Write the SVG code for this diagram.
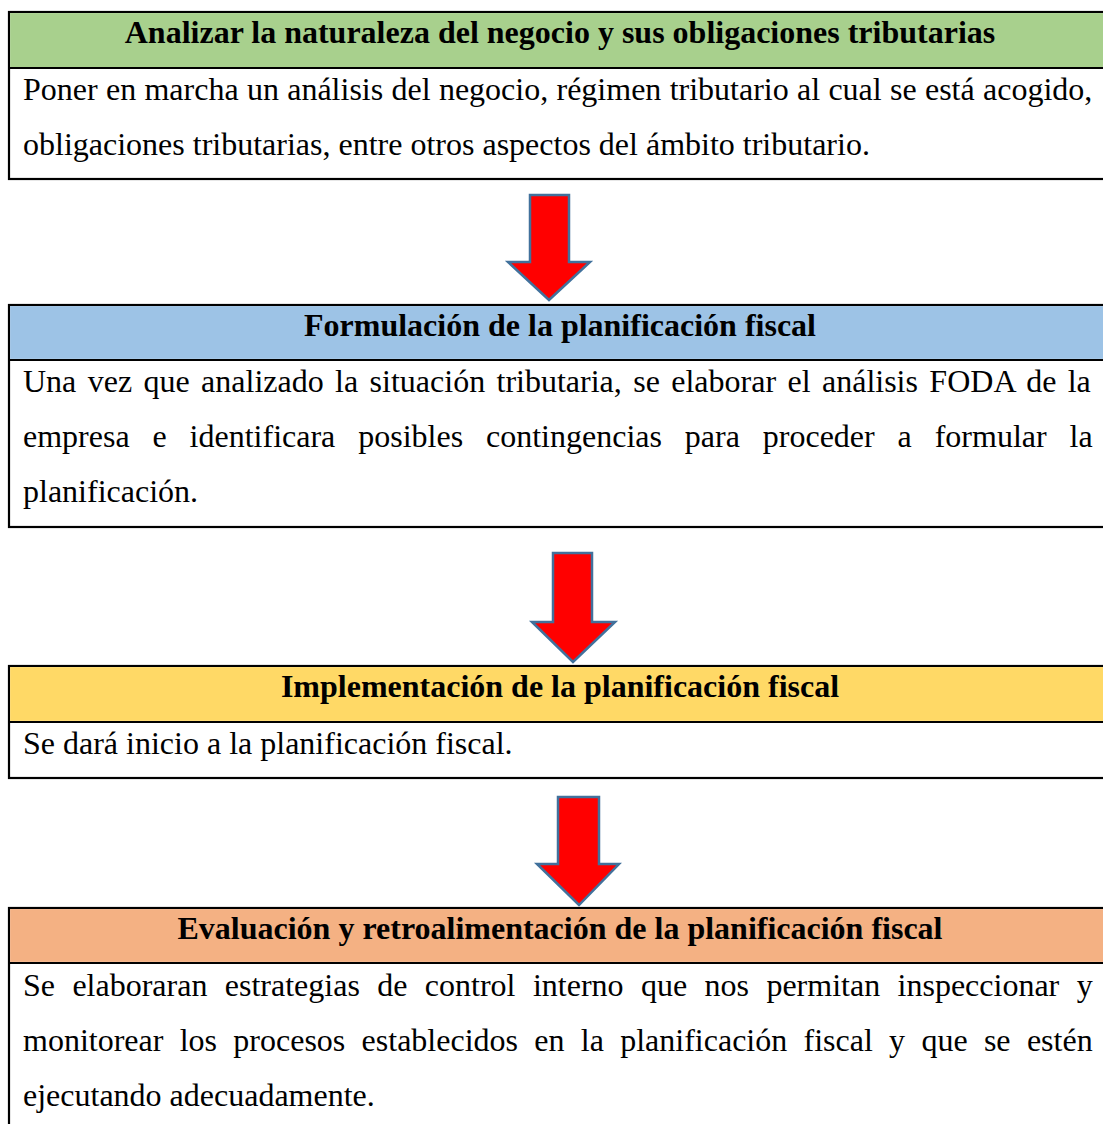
<svg xmlns="http://www.w3.org/2000/svg" width="1103" height="1124" viewBox="0 0 1103 1124">
<style>
  .frame { fill: #FFFFFF; stroke: #000000; stroke-width: 2.2; }
  .sep { stroke: #000000; stroke-width: 2.2; }
  .head { font-family: "Liberation Serif", "Times New Roman", serif; font-weight: bold; font-size: 32px; fill: #000000; text-anchor: middle; font-variant-ligatures: none; }
  .body { font-family: "Liberation Serif", "Times New Roman", serif; font-size: 32px; fill: #000000; font-variant-ligatures: none; }
  .arrow { fill: #FF0000; stroke: #41719C; stroke-width: 2.5; stroke-linejoin: miter; }
</style>
<rect width="1103" height="1124" fill="#FFFFFF"/>

<g id="node1">
  <rect class="frame" x="9" y="12" width="1110" height="167"/>
  <rect x="10.1" y="13.1" width="1108" height="54.8" fill="#A8D08D"/>
  <line class="sep" x1="9" y1="68" x2="1119" y2="68"/>
  <text class="head" x="560" y="43">Analizar la naturaleza del negocio y sus obligaciones tributarias</text>
  <text class="body" x="23" y="100" word-spacing="0.3">Poner en marcha un análisis del negocio, régimen tributario al cual se está acogido,</text>
  <text class="body" x="23" y="155">obligaciones tributarias, entre otros aspectos del ámbito tributario.</text>
</g>

<g id="node2">
  <rect class="frame" x="9" y="305" width="1110" height="222"/>
  <rect x="10.1" y="306.1" width="1108" height="52.8" fill="#9DC3E6"/>
  <line class="sep" x1="9" y1="360" x2="1119" y2="360"/>
  <text class="head" x="560" y="336">Formulación de la planificación fiscal</text>
  <text class="body" x="23" y="392" word-spacing="3.4">Una vez que analizado la situación tributaria, se elaborar el análisis FODA de la</text>
  <text class="body" x="23" y="447" word-spacing="14.9">empresa e identificara posibles contingencias para proceder a formular la</text>
  <text class="body" x="23" y="502">planificación.</text>
</g>

<g id="node3">
  <rect class="frame" x="9" y="666" width="1110" height="112"/>
  <rect x="10.1" y="667.1" width="1108" height="53.8" fill="#FFD966"/>
  <line class="sep" x1="9" y1="722" x2="1119" y2="722"/>
  <text class="head" x="560" y="697">Implementación de la planificación fiscal</text>
  <text class="body" x="23" y="754">Se dará inicio a la planificación fiscal.</text>
</g>

<g id="node4">
  <rect class="frame" x="9" y="908" width="1110" height="230"/>
  <rect x="10.1" y="909.1" width="1108" height="52.8" fill="#F4B183"/>
  <line class="sep" x1="9" y1="963" x2="1119" y2="963"/>
  <text class="head" x="560" y="939">Evaluación y retroalimentación de la planificación fiscal</text>
  <text class="body" x="23" y="996" word-spacing="9.4">Se elaboraran estrategias de control interno que nos permitan inspeccionar y</text>
  <text class="body" x="23" y="1051" word-spacing="8.3">monitorear los procesos establecidos en la planificación fiscal y que se estén</text>
  <text class="body" x="23" y="1106">ejecutando adecuadamente.</text>
</g>

<g id="connectors">
  <polygon class="arrow" points="530,195 569,195 569,262 590,262 549,300 508,262 530,262"/>
  <polygon class="arrow" points="553,553 592,553 592,622 615,622 573,662 532,622 553,622"/>
  <polygon class="arrow" points="558,797 599,797 599,864 619,864 579,905 537,864 558,864"/>
</g>
</svg>
